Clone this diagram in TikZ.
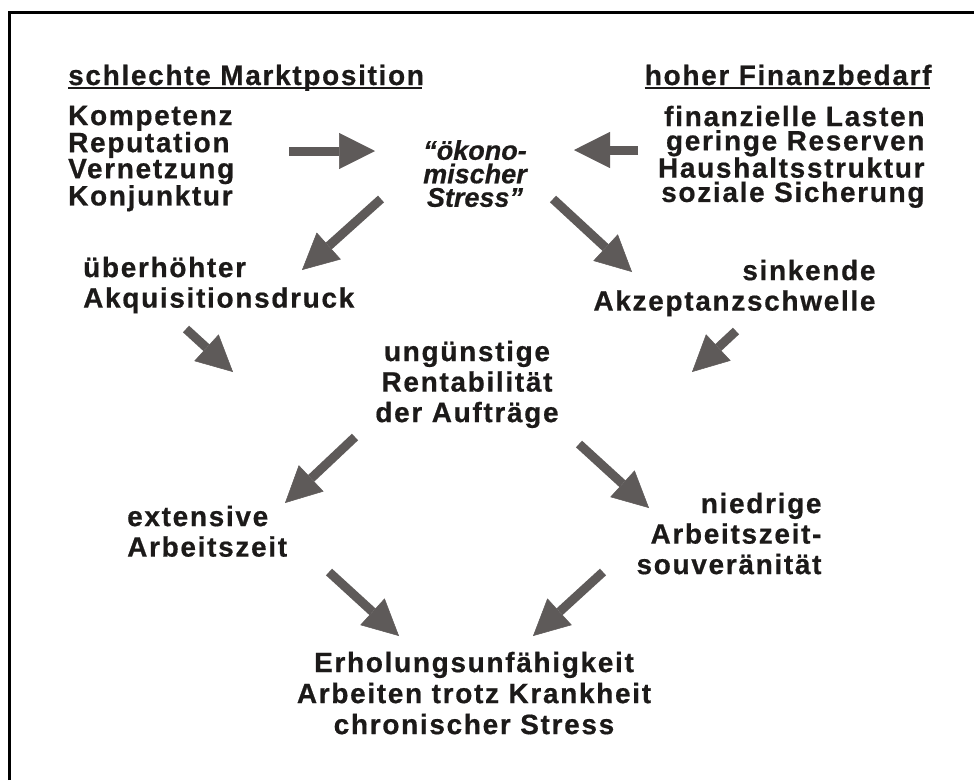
\documentclass[tikz,border=0pt]{standalone}
\usepackage{fontspec}
\setmainfont{Liberation Sans}[LetterSpace=6,BoldFeatures={FakeBold=0.6}]
\newfontfamily\stressfont{Liberation Sans}[BoldItalicFeatures={FakeBold=0.6}]
\usepackage{xcolor}
\usetikzlibrary{arrows.meta}
\definecolor{pfeilgrau}{HTML}{5E5A59}
\definecolor{schrift}{HTML}{1C1A19}

\begin{document}
\begin{tikzpicture}[x=1pt,y=-1pt,
    pfeil/.style={draw=pfeilgrau,line width=9pt,
      -{Triangle[length=36pt,width=36pt,line width=0.5pt]}},
    liste/.style={inner sep=0pt,text=schrift,
      font=\bfseries\fontsize{28}{24.3}\selectfont},
    block/.style={inner sep=0pt,text=schrift,
      font=\bfseries\fontsize{28}{30.5}\selectfont}]
    \useasboundingbox (0,0) rectangle (974,780);
    \draw[line width=3.2pt] (9.7,780) -- (9.7,12.5) -- (974,12.5);

    % Marktposition
    \node[liste,anchor=base west] (markt) at (68,85) {schlechte Marktposition};
    \draw[schrift,line width=1.8pt,shorten >=1.7pt]
      ([yshift=-3pt]markt.base west) -- ([yshift=-3pt]markt.base east);
    \node[liste,anchor=north west,align=left] (marktliste) at (68,105.6)
      {Kompetenz\\Reputation\\Vernetzung\\Konjunktur};

    % Finanzbedarf
    \node[liste,anchor=base east] (finanz) at (931.7,85) {hoher Finanzbedarf};
    \draw[schrift,line width=1.8pt,shorten >=1.7pt]
      ([yshift=-3pt]finanz.base west) -- ([yshift=-3pt]finanz.base east);
    \node[liste,anchor=north east,align=right] (finanzliste) at (924.7,105.6)
      {finanzielle Lasten\\geringe Reserven\\Haushaltsstruktur\\soziale Sicherung};

    % Stress
    \node[inner sep=0pt,text=schrift,align=center,anchor=north,
      font=\stressfont\bfseries\itshape\fontsize{27}{23.5}\selectfont]
      (stress) at (475,140) {“ökono-\\mischer\\Stress”};

    % Folgen
    \node[block,anchor=north west,align=left] (druck) at (83,256.6)
      {überhöhter\\Akquisitionsdruck};
    \node[block,anchor=north east,align=right] (schwelle) at (875.7,259.6)
      {sinkende\\Akzeptanzschwelle};
    \node[block,anchor=north,align=center] (rentab) at (467,340.6)
      {ungünstige\\Rentabilität\\der Aufträge};
    \node[block,anchor=north west,align=left] (extensiv) at (127,505.6)
      {extensive\\Arbeitszeit};
    \node[block,anchor=north east,align=right] (niedrig) at (821.7,492.6)
      {niedrige\\Arbeitszeit-\\souveränität};
    \node[block,anchor=north,align=center,
      font=\bfseries\fontsize{28}{31}\selectfont] (erholung) at (474,651.6)
      {Erholungsunfähigkeit\\Arbeiten trotz Krankheit\\chronischer Stress};

    % Pfeile
    \coordinate (p1) at (289,151);  \coordinate (q1) at (375,151);
    \coordinate (p2) at (638,150);  \coordinate (q2) at (574,150);
    \coordinate (p3) at (381,199);  \coordinate (q3) at (302,270);
    \coordinate (p4) at (553,199);  \coordinate (q4) at (632,272);
    \coordinate (p5) at (186,329);  \coordinate (q5) at (233,372);
    \coordinate (p6) at (736,331);  \coordinate (q6) at (692,372);
    \coordinate (p7) at (355,437);  \coordinate (q7) at (285,503);
    \coordinate (p8) at (579,444);  \coordinate (q8) at (649,508);
    \coordinate (p9) at (329,572);  \coordinate (q9) at (399,636);
    \coordinate (p10) at (603,572); \coordinate (q10) at (533,636);
    \foreach \i in {1,...,10}
      \draw[pfeil] (p\i) -- (q\i);
\end{tikzpicture}
\end{document}
